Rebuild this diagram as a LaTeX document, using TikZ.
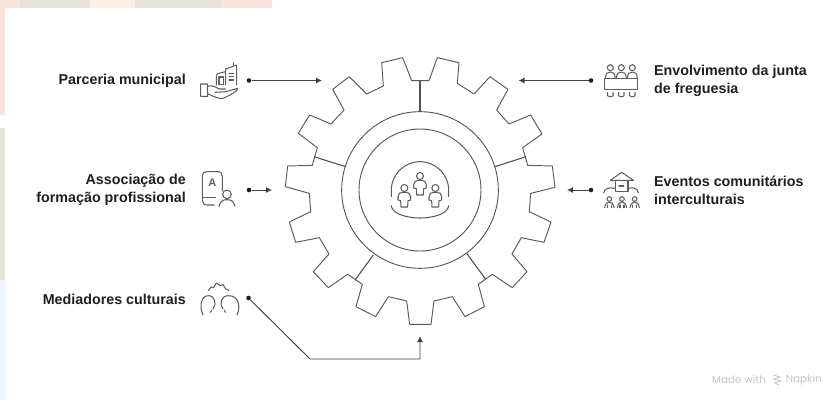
\documentclass[tikz,border=0pt]{standalone}
\usepackage{fontspec}
\setmainfont{Liberation Sans}
\newfontfamily\wmfont{Poppins}
\usetikzlibrary{arrows.meta}
\definecolor{ink}{HTML}{1F1F1F}
\definecolor{gearline}{HTML}{5A5A5A}
\definecolor{iconline}{HTML}{5E5E5E}
\definecolor{wm}{HTML}{C6C6C6}
\definecolor{bgpink}{HTML}{F9E4DB}
\definecolor{bggrey}{HTML}{E6E3DD}
\definecolor{bgpeach}{HTML}{FDF0E6}
\definecolor{bgblue}{HTML}{EFF7FA}
\tikzset{
  gearstroke/.style={draw=gearline,line width=0.95pt,line join=round},
  spoke/.style={draw=gearline!90!black,line width=1.1pt},
  conn/.style={draw=ink!85,line width=0.95pt},
  arrowtip/.style={-{Latex[length=6pt,width=6pt]}},
  dotnode/.style={circle,fill=ink,inner sep=0pt,minimum size=4.6pt},
  labeltext/.style={font=\fontsize{14.3}{18}\selectfont\bfseries,text=ink,inner sep=0pt},
  iconstroke/.style={draw=iconline,line width=1.05pt,line cap=round,line join=round}
}
\newcommand{\personat}[2]{%
  \begin{scope}[shift={(#1,#2)}]
    \draw[iconstroke] (0,0) circle (10.5);
    \draw[iconstroke] (-19,36) -- (-19,26) .. controls (-19,17) and (-12,13) .. (-6,13) -- (6,13)
      .. controls (12,13) and (19,17) .. (19,26) -- (19,36) -- (11,38) -- (10,57) -- (-10,57) -- (-11,38) -- cycle;
  \end{scope}}
\newcommand{\smallpersonat}[2]{%
  \begin{scope}[shift={(#1,#2)}]
    \draw[iconstroke] (0,0) circle (7);
    \draw[iconstroke] (-14,26) .. controls (-12,14) and (-6,9) .. (0,9) .. controls (6,9) and (12,14) .. (14,26);
    \draw[iconstroke] (-6,26) -- (-6,18) (6,26) -- (6,18);
  \end{scope}}
\begin{document}
\begin{tikzpicture}[x=1pt,y=-1pt]
\useasboundingbox (0,0) rectangle (823,400);
% page behind
\fill[bgpink] (0,0) rectangle (20,8);
\fill[bggrey] (20,0) rectangle (90,8);
\fill[bgpeach] (90,0) rectangle (135,8);
\fill[bggrey] (135,0) rectangle (222,8);
\fill[bgpink] (222,0) rectangle (272,8);
\fill[bgpink] (0,0) rectangle (5,115);
\fill[bggrey] (0,128) rectangle (5,280);
\fill[bgblue] (0,280) rectangle (5,400);

% gear
\begin{scope}[shift={(260,40)},scale=1/3]
\draw[gearstroke] (455,122) -- (507,122) -- (532,53) -- (597,68) -- (592,130) -- (642,162) -- (690,110) -- (744,148) -- (710,210) -- (747,252) -- (812,225) -- (846,282) -- (788,323) -- (803,376) -- (877,378) -- (885,442) -- (812,460) -- (808,515) -- (873,546) -- (852,607) -- (784,593) -- (756,642) -- (801,695) -- (757,743) -- (697,703) -- (655,733) -- (673,800) -- (615,830) -- (577,770) -- (522,783) -- (513,853) -- (449,853) -- (440,783) -- (385,770) -- (347,830) -- (288,800) -- (307,733) -- (263,703) -- (205,743) -- (160,695) -- (207,642) -- (178,593) -- (107,607) -- (88,546) -- (152,515) -- (148,460) -- (76,440) -- (83,378) -- (157,376) -- (172,323) -- (115,280) -- (149,225) -- (213,252) -- (252,210) -- (218,148) -- (268,110) -- (320,162) -- (370,138) -- (365,68) -- (428,53) -- cycle;
\draw[spoke] (480,122) -- (480,215);
\draw[spoke] (798,350) -- (705,380);
\draw[spoke] (620,640) -- (677,718);
\draw[spoke] (340,645) -- (285,720);
\draw[spoke] (162,350) -- (257,380);
\draw[gearstroke] (480,450) circle (235);
\draw[gearstroke] (480,450) circle (183);
% centre icon
\draw[iconstroke] (394,470) -- (394,451) arc[start angle=180,end angle=360,radius=86] -- (566,470);
\draw[iconstroke] (394,497) .. controls (396,525) and (450,534) .. (480,534) .. controls (510,534) and (564,525) .. (566,497);
\personat{480}{408}
\personat{433}{444}
\personat{526}{444}
\end{scope}

% icon: Parceria municipal
\begin{scope}[shift={(195,55)},scale=1/3]
\draw[iconstroke] (92,90) -- (92,42) -- (125,30) -- (125,90);
\draw[iconstroke] (115,30) -- (115,24);
\draw[iconstroke] (92,50) -- (67,56) -- (64,62) -- (64,90);
\draw[iconstroke] (72,66) -- (72,88) -- (85,88) -- (85,66) -- cycle;
\draw[iconstroke] (102,55) -- (116,55) (102,65) -- (116,65) (102,75) -- (116,75);
\draw[iconstroke] (17,87) -- (37,87) -- (38,124) -- (17,124) -- cycle;
\draw[iconstroke] (38,94) .. controls (50,90) and (62,95) .. (72,102) -- (92,102) (60,112) -- (92,110) -- (128,100) .. controls (130,108) and (105,120) .. (85,130) .. controls (70,132) and (55,124) .. (38,116);
\end{scope}

% icon: Associacao
\begin{scope}[shift={(195,165)},scale=1/3]
\draw[iconstroke] (58,120) -- (36,120) .. controls (26,120) and (22,112) .. (22,104) -- (22,32) .. controls (22,24) and (28,20) .. (36,20) -- (68,20) .. controls (78,20) and (82,26) .. (82,34) -- (82,78);
\draw[iconstroke] (22,98) -- (62,98);
\node[font=\fontsize{11}{12}\selectfont\bfseries,text=iconline,inner sep=0pt] (icA) at (52,54) {A};
\draw[iconstroke] (96,88) circle (13);
\draw[iconstroke] (72,124) .. controls (76,108) and (84,104) .. (96,104) .. controls (108,104) and (116,108) .. (120,124);
\end{scope}

% icon: Mediadores
\begin{scope}[shift={(195,275)},scale=1/3]
\draw[iconstroke] (40,47) -- (48,36) -- (56,38) -- (64,24) -- (76,32) -- (84,28) -- (92,42) -- (102,46);
\draw[iconstroke] (24,120) .. controls (14,100) and (15,62) .. (40,62) .. controls (60,62) and (66,88) .. (54,102) (46,112) -- (50,106);
\draw[iconstroke] (126,120) .. controls (136,100) and (135,62) .. (100,62) .. controls (78,62) and (72,88) .. (84,102) (92,112) -- (88,106);
\end{scope}

% icon: Envolvimento
\begin{scope}[shift={(597,55)},scale=1/3]
\foreach \cx in {40,73,106}{
  \draw[iconstroke] (\cx,38) circle (9);
  \draw[iconstroke] ({\cx-15},70) .. controls ({\cx-14},54) and ({\cx-8},51) .. (\cx,51) .. controls ({\cx+8},51) and ({\cx+14},54) .. ({\cx+15},70);
  \draw[iconstroke] ({\cx-8},112) -- ({\cx-8},122) .. controls ({\cx-6},126) and ({\cx+6},126) .. ({\cx+8},122) -- ({\cx+8},112);
}
\draw[iconstroke] (23,70) -- (122,70) -- (122,103) -- (23,103) -- cycle;
\end{scope}

% icon: Eventos
\begin{scope}[shift={(597,165)},scale=1/3]
\draw[iconstroke] (40,46) -- (74,22) -- (110,46) -- cycle;
\draw[iconstroke] (55,46) -- (55,80) -- (93,80) -- (93,46);
\draw[iconstroke] (66,63) -- (80,63);
\draw[iconstroke] (20,84) .. controls (22,70) and (35,66) .. (55,70);
\draw[iconstroke] (124,84) .. controls (122,70) and (110,66) .. (93,70);
\smallpersonat{37}{102}
\smallpersonat{75}{102}
\smallpersonat{113}{102}
\end{scope}

% labels
\node[labeltext,anchor=east] (l1) at (186,81) {Parceria municipal};
\node[labeltext,anchor=east,align=right] (l2) at (186,190) {Associação de\\formação profissional};
\node[labeltext,anchor=east] (l3) at (186,299) {Mediadores culturais};
\node[labeltext,anchor=west,align=left] (r1) at (654,81) {Envolvimento da junta\\de freguesia};
\node[labeltext,anchor=west,align=left] (r2) at (654,190) {Eventos comunitários\\interculturais};

% connectors
\node[dotnode] (d1) at (249,80.5) {};
\coordinate (t1) at (322,80.5);
\draw[conn,arrowtip] (d1) -- (t1);
\node[dotnode] (d2) at (249,190) {};
\coordinate (t2) at (272,190);
\draw[conn,arrowtip] (d2) -- (t2);
\node[dotnode] (d3) at (248.5,298) {};
\coordinate (c3) at (310,359);
\coordinate (c4) at (420,359);
\coordinate (t3) at (420,336);
\draw[conn,arrowtip,line join=round] (d3) -- (c3) -- (c4) -- (t3);
\node[dotnode] (d4) at (591,80.5) {};
\coordinate (t4) at (518.5,80.5);
\draw[conn,arrowtip] (d4) -- (t4);
\node[dotnode] (d5) at (591,190) {};
\coordinate (t5) at (567,190);
\draw[conn,arrowtip] (d5) -- (t5);

% watermark
\node[anchor=west,inner sep=0pt,text=wm,font=\wmfont\fontsize{10.4}{12}\selectfont] (wm1) at (712,380) {Made with};
\draw[wm,line width=0.9pt] (773,375) -- (780,377) -- (774,379) -- (781,381) -- (775,383) -- (779,385);
\node[anchor=east,inner sep=0pt,text=wm,font=\wmfont\fontsize{10.4}{12}\selectfont] (wm2) at (822,380) {Napkin};
\end{tikzpicture}
\end{document}
